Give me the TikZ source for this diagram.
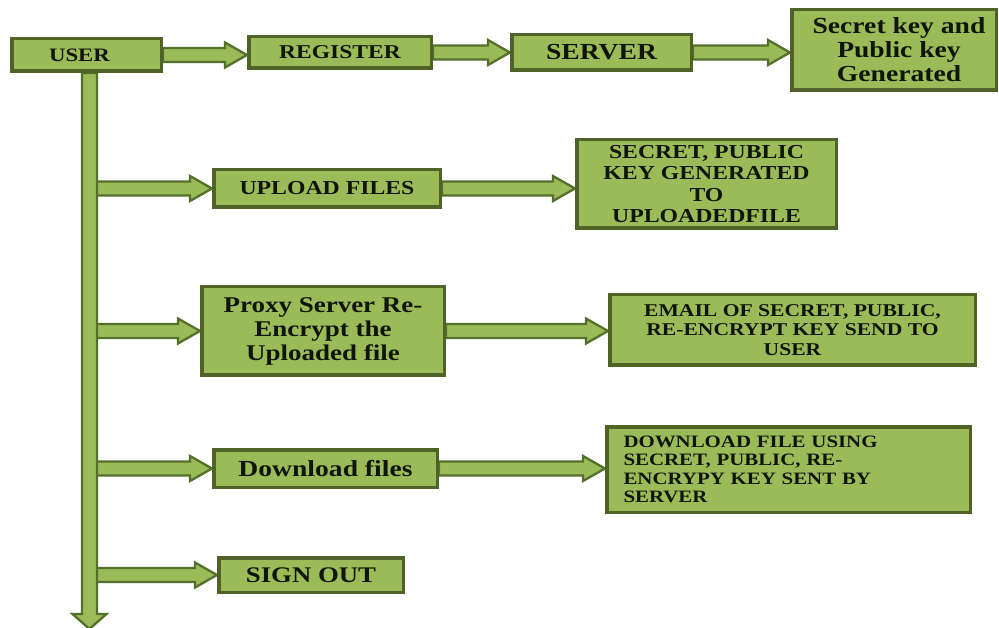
\documentclass[tikz,border=0pt]{standalone}
\usepackage{fontspec}
\setmainfont{Liberation Serif}[FakeStretch=1.2]
\usetikzlibrary{calc}
\definecolor{boxfill}{HTML}{9BBB59}
\definecolor{boxedge}{HTML}{4F6228}
\definecolor{arrowedge}{HTML}{55702A}
\definecolor{ink}{HTML}{10150A}
\pgfdeclarelayer{bg}
\pgfsetlayers{bg,main}
\newcommand{\fs}[2]{\fontsize{#1}{#2}\selectfont\bfseries}
% horizontal block arrow from #1 to the x of #2, at the height of #1
\newcommand{\harrow}[2]{%
  \path[blockarrow] let \p1=#1, \p2=#2 in
    (\x1,\y1+7pt) -- (\x2-22pt,\y1+7pt) -- (\x2-22pt,\y1+12.5pt) -- (\x2,\y1)
    -- (\x2-22pt,\y1-12.5pt) -- (\x2-22pt,\y1-7pt) -- (\x1,\y1-7pt) -- cycle;}
% downward block arrow from #1 to the y of #2
\newcommand{\varrow}[2]{%
  \path[blockarrow] let \p1=#1, \p2=#2 in
    (\x1-7.5pt,\y1) -- (\x1-7.5pt,\y2+15pt) -- (\x1-17pt,\y2+15pt) -- (\x1,\y2)
    -- (\x1+17pt,\y2+15pt) -- (\x1+7.5pt,\y2+15pt) -- (\x1+7.5pt,\y1) -- cycle;}
\begin{document}
\begin{tikzpicture}[x=1pt,y=-1pt,
  box/.style={draw=boxedge, line width=3.5pt, fill=boxfill, inner sep=0pt,
    align=center, text=ink},
  blockarrow/.style={fill=boxfill, draw=arrowedge, line width=2.3pt, line join=miter}]
\useasboundingbox (0,0) rectangle (999,628);

% boxes
\node[box, minimum width=149.5pt, minimum height=32.5pt, font=\fs{19}{22}] (user) at (86.5,55)
  {USER\hspace*{14pt}};
\node[box, minimum width=182.5pt, minimum height=31.5pt, font=\fs{19.6}{22}] (register) at (340,52.5) {REGISTER};
\node[box, minimum width=179.5pt, minimum height=35.5pt, font=\fs{23}{26}] (server) at (601.5,52.5) {SERVER};
\node[box, minimum width=204.5pt, minimum height=80.5pt, font=\fs{23}{24}] (keys) at (894,50)
  {\hspace*{10pt}Secret key and\\\hspace*{10pt}Public key\\\hspace*{10pt}Generated};

\node[box, minimum width=226.5pt, minimum height=37.5pt, font=\fs{19.8}{22}] (upload) at (327,188.5) {UPLOAD FILES};
\node[box, minimum width=259.5pt, minimum height=88.5pt, font=\fs{19.8}{21.5}] (filekeys) at (706.5,184)
  {SECRET, PUBLIC\\KEY GENERATED\\TO\\UPLOADEDFILE};

\node[box, minimum width=242.5pt, minimum height=88.5pt, font=\fs{22.5}{24}] (proxy) at (323,331)
  {Proxy Server Re-\\Encrypt the\\Uploaded file};
\node[box, minimum width=365.5pt, minimum height=70.5pt, font=\fs{18}{19.5}] (email) at (792.5,330)
  {EMAIL OF SECRET, PUBLIC,\\RE-ENCRYPT KEY SEND TO\\USER};

\node[box, minimum width=223.5pt, minimum height=37.5pt, font=\fs{23}{26}] (download) at (325.5,468.5) {Download files};
\node[box, minimum width=363.5pt, minimum height=85.5pt, text width=330pt, align=left,
  font=\fs{17.4}{18.5}] (dlkeys) at (788.5,469.5)
  {DOWNLOAD FILE USING\\SECRET, PUBLIC, RE-\\ENCRYPY KEY SENT BY\\SERVER};

\node[box, minimum width=184.5pt, minimum height=34.5pt, font=\fs{22.3}{25}] (signout) at (311,575) {SIGN OUT};

\coordinate (trunktop) at (89.5,73);
\coordinate (trunkend) at (89.5,629);

% connectors
\begin{pgfonlayer}{bg}
  \harrow{(user.east)}{(register.west)}
  \harrow{(register.east)}{(server.west)}
  \harrow{(server.east)}{(keys.west)}
  \harrow{(upload.east)}{(filekeys.west)}
  \harrow{(proxy.east)}{(email.west)}
  \harrow{(download.east)}{(dlkeys.west)}
  \harrow{(trunktop |- upload.west)}{(upload.west)}
  \harrow{(trunktop |- proxy.west)}{(proxy.west)}
  \harrow{(trunktop |- download.west)}{(download.west)}
  \harrow{(trunktop |- signout.west)}{(signout.west)}
  \varrow{(trunktop)}{(trunkend)}
\end{pgfonlayer}
\end{tikzpicture}
\end{document}
